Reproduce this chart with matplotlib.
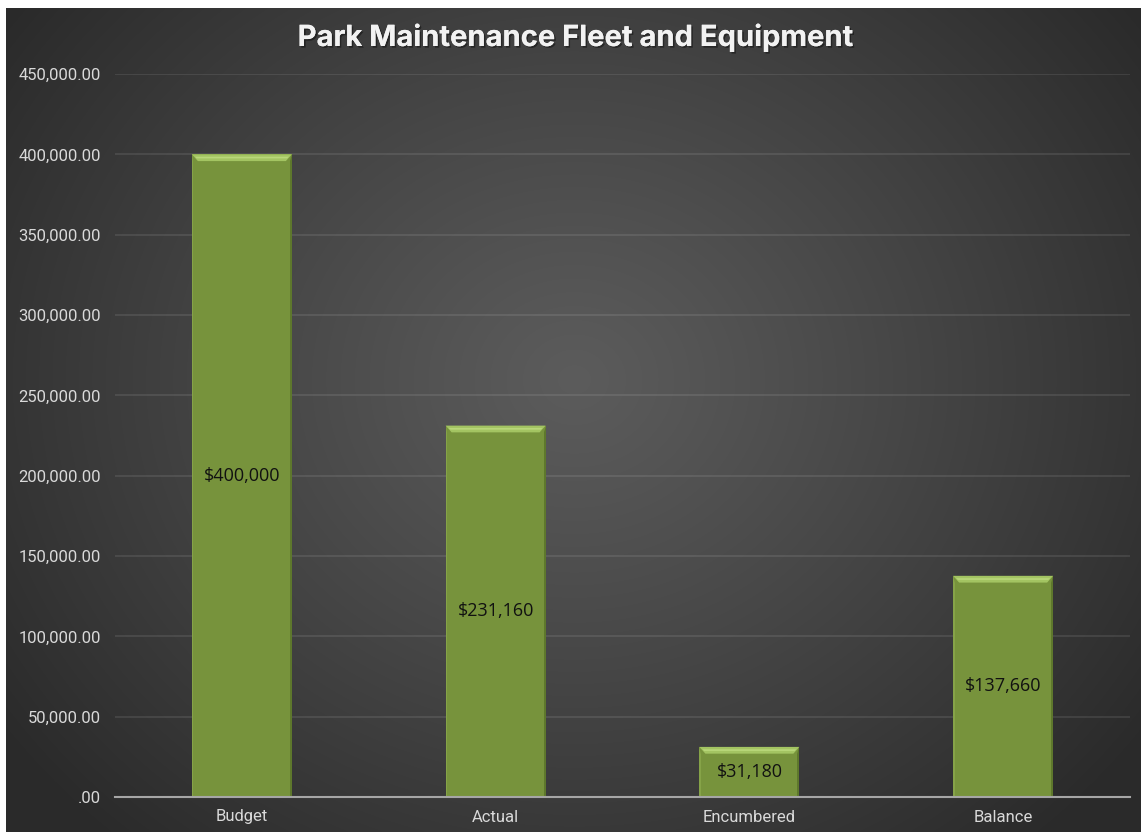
import numpy as np
import matplotlib
matplotlib.use("Agg")
import matplotlib.pyplot as plt
from matplotlib.patches import Polygon
import matplotlib.patheffects as pe

categories = ["Budget", "Actual", "Encumbered", "Balance"]
values = [400000, 231160, 31180, 137660]
labels = ["$400,000", "$231,160", "$31,180", "$137,660"]
yticks = [0, 50000, 100000, 150000, 200000, 250000, 300000, 350000, 400000, 450000]
ytick_labels = [".00"] + [f"{v:,.2f}" for v in yticks[1:]]

W, H = 1141, 832
fig = plt.figure(figsize=(W / 100, H / 100), dpi=100, facecolor="white")

# background panel with radial gradient
bg = fig.add_axes([6 / W, 0, (W - 6) / W, (H - 8) / H])
bg.set_axis_off()
ny, nx = 400, 560
yy, xx = np.mgrid[0:ny, 0:nx]
cx, cy = nx * 0.5, ny * 0.45
r = np.sqrt(((xx - cx) / (nx * 0.62)) ** 2 + ((yy - cy) / (ny * 0.75)) ** 2)
r = np.clip(r, 0, 1)
inner, outer = 0.36, 0.165
g = inner + (outer - inner) * r ** 1.1
img = np.dstack([g, g, g])
bg.imshow(img, aspect="auto", extent=[0, 1, 0, 1], interpolation="bilinear")
bg.set_xlim(0, 1)
bg.set_ylim(0, 1)

ax_left, ax_right = 115, 1130
ax_top, ax_bottom = 74, 797
ax = fig.add_axes([ax_left / W, (H - ax_bottom) / H, (ax_right - ax_left) / W, (ax_bottom - ax_top) / H])
ax.patch.set_alpha(0)

x = np.arange(len(categories))
bw = 0.394
ax.bar(x, values, width=bw, color="#77933c", edgecolor="none", zorder=3)

# bevel: highlight on top, darker sides
hy = 4200
hx = bw * 0.06
for xi, v in zip(x, values):
    l, rr = xi - bw / 2, xi + bw / 2
    ax.add_patch(Polygon([(l, v), (rr, v), (rr - hx, v - hy), (l + hx, v - hy)],
                         closed=True, facecolor="#a3c462", edgecolor="none", zorder=4))
    ax.add_patch(Polygon([(l + hx * 0.5, v - hy * 0.35), (rr - hx * 0.5, v - hy * 0.35),
                          (rr - hx * 0.8, v - hy * 0.6), (l + hx * 0.8, v - hy * 0.6)],
                         closed=True, facecolor="#b9d77a", edgecolor="none", zorder=4))
    ax.add_patch(Polygon([(rr, v), (rr, 0), (rr - hx * 0.35, 0), (rr - hx * 0.35, v - hy)],
                         closed=True, facecolor="#5e782c", edgecolor="none", zorder=4))
    ax.add_patch(Polygon([(l, v), (l, 0), (l + hx * 0.25, 0), (l + hx * 0.25, v - hy)],
                         closed=True, facecolor="#86a348", edgecolor="none", zorder=4))

for xi, v, lab in zip(x, values, labels):
    ax.text(xi, v / 2, lab, ha="center", va="center", color="#111111",
            fontsize=13, family="Open Sans", zorder=5)

ax.set_xlim(-0.5, len(categories) - 0.5)
ax.set_ylim(0, 450000)
ax.set_yticks(yticks)
ax.set_yticklabels(ytick_labels, color="#d9d9d9", fontsize=12, family="Roboto")
ax.set_xticks(x)
ax.set_xticklabels(categories, color="#d9d9d9", fontsize=12, family="Roboto")
ax.tick_params(axis="y", length=0, pad=10)
ax.tick_params(axis="x", length=0, pad=9)
ax.grid(axis="y", color="#ffffff", alpha=0.09, linewidth=1.5, zorder=0)
for s in ["top", "right", "left"]:
    ax.spines[s].set_visible(False)
ax.spines["bottom"].set_color("#a6a6a6")
ax.spines["bottom"].set_linewidth(1.5)
ax.spines["bottom"].set_zorder(6)

fig.text(576 / W, 1 - 38 / H, "Park Maintenance Fleet and Equipment", ha="center", va="center",
         color="#f2f2f2", fontsize=21, fontweight="bold", family="Inter",
         path_effects=[pe.withSimplePatchShadow(offset=(1.2, -1.2), shadow_rgbFace="black", alpha=0.4),
                       pe.Normal()])

fig.savefig("out.png", dpi=100, facecolor="white")
